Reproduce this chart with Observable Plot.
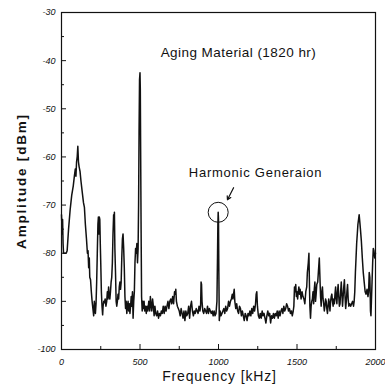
<!DOCTYPE html>
<html>
<head>
<meta charset="utf-8">
<script src="https://cdn.jsdelivr.net/npm/d3@7"></script>
<script src="https://cdn.jsdelivr.net/npm/@observablehq/plot@0.6"></script>
<style>
  html, body { margin: 0; padding: 0; background: #fff; }
  svg { display: block; }
</style>
</head>
<body>
<div id="chart"></div>
<script>
// Spectrum: frequency (kHz) and amplitude (dBm)
const freq = [0,4,7,10,13,20,30,36,45,55,65,75,82,88,92,96,100,104,108,112,118,124,131,140,146,152,159,165,169,173,177,180,185,190,195,200,205,209,212,216,220,224,228,232,235,238,241,244,247,250,254,258,262,265,269,273,278,283,288,292,296,300,304,308,312,316,320,324,328,332,335,337,340,344,348,352,356,360,364,368,372,376,380,384,388,392,396,400,404,408,412,416,420,424,428,432,436,440,444,448,452,456,460,464,468,472,476,480,484,488,491,494,497,500,502,504,507,510,514,518,522,526,530,535,540,545,550,556,562,566,570,575,580,585,590,595,600,606,612,618,624,630,636,642,648,654,660,666,672,678,684,690,696,702,708,714,720,724,728,732,738,744,750,756,762,768,774,780,786,792,798,804,810,816,822,828,834,840,846,852,858,864,870,876,882,886,889,892,895,900,906,912,918,924,930,936,942,948,954,960,966,972,978,984,990,994,996,998,1000,1002,1005,1010,1016,1022,1028,1034,1040,1046,1052,1058,1064,1070,1076,1082,1088,1092,1096,1100,1104,1110,1116,1122,1128,1134,1140,1146,1152,1158,1164,1170,1176,1182,1188,1194,1200,1206,1212,1218,1224,1230,1236,1240,1244,1248,1254,1260,1266,1272,1278,1284,1290,1296,1302,1308,1314,1320,1326,1332,1338,1344,1350,1356,1362,1368,1374,1380,1386,1392,1398,1404,1410,1416,1422,1428,1434,1440,1446,1452,1458,1464,1470,1476,1480,1484,1488,1492,1496,1500,1504,1508,1512,1516,1520,1526,1532,1538,1544,1550,1556,1562,1566,1572,1576,1579,1582,1586,1590,1594,1598,1602,1606,1610,1614,1618,1622,1626,1632,1636,1642,1646,1650,1654,1658,1662,1666,1670,1674,1678,1682,1686,1690,1694,1698,1702,1706,1710,1714,1718,1722,1726,1730,1734,1738,1742,1746,1750,1754,1758,1762,1766,1770,1774,1778,1782,1786,1790,1794,1798,1802,1806,1810,1814,1818,1822,1826,1830,1836,1842,1848,1854,1860,1864,1868,1872,1876,1880,1884,1888,1892,1896,1900,1904,1910,1916,1922,1928,1934,1940,1946,1952,1956,1960,1964,1966,1968,1971,1974,1978,1982,1986,1990,1995,2000];
const amp = [-72,-76,-73,-78,-80,-80,-80,-79.5,-75,-71,-68,-66,-64,-62.5,-64,-61,-60,-57.8,-61,-62,-63,-65,-67,-69.5,-70.5,-74,-77,-80,-79.5,-83,-81,-85,-85.5,-88,-90,-91.5,-93,-90,-91,-92.5,-90.5,-86,-80,-74,-72.5,-76,-72.5,-73,-78,-82,-88,-91,-92.8,-91,-90,-90.3,-89.5,-91,-90,-88,-89.5,-87,-89,-89.5,-88,-86,-85,-82,-76,-72,-73,-71.5,-79,-84,-90,-91,-90,-88.5,-89.5,-87,-86,-87.5,-86,-81,-77,-76,-79,-83,-89,-91.5,-90,-92.5,-91,-90,-92,-90.5,-92.5,-91,-89,-91,-88,-93.5,-90,-88,-82,-79,-80,-78,-82,-79,-70,-55,-44,-42.5,-46,-58,-75,-89,-92,-90,-91.5,-90,-92,-91,-92.5,-91,-92,-90,-92,-89,-90.5,-92,-89.5,-91,-93,-91,-92.5,-93,-92,-93.5,-92.5,-93,-92,-92.5,-91,-92.5,-91,-92,-91,-90,-91.5,-90,-89.5,-90.5,-89,-90.5,-88,-88.5,-87.5,-90,-91,-91.5,-92,-93,-91.5,-92.5,-93.5,-92,-94,-92,-93,-92.5,-91,-93.5,-91,-90,-92,-93,-92,-92.5,-91.5,-92,-92.5,-91,-92,-91,-86,-86.5,-90,-92,-92.5,-91.5,-92,-92.5,-91,-92.5,-91.5,-92,-92.5,-92,-93,-92,-93,-92.5,-90,-80,-74,-71.5,-73,-83,-94,-92,-93,-92.5,-92,-91.5,-92.5,-91,-92,-91.5,-90,-91,-90,-89.5,-88.5,-89.5,-88.5,-87.5,-90,-91.5,-90.5,-92,-92.5,-91,-91.5,-93,-92,-93,-94,-92.5,-93,-94,-92.5,-93,-92,-93,-91.5,-92.5,-91,-92,-90.5,-88.5,-88,-91,-93,-93.5,-92.5,-93.5,-92,-93,-92.5,-93.5,-94.5,-93,-92,-93,-92.5,-94.5,-93,-93.5,-92.5,-93.5,-92.5,-93,-92,-93.5,-92,-93,-92,-91.5,-92.5,-91,-92,-91.5,-90.5,-91,-92,-91.5,-92.5,-92,-93,-92,-91,-87,-88,-86.5,-89,-88,-89.5,-88,-87,-88.5,-87.5,-89.5,-88,-89,-89.5,-90.5,-88,-87,-84,-82,-80,-86,-91,-93.5,-91,-90,-89.5,-88,-90.5,-87.5,-86,-90,-88.5,-86.5,-86,-84,-81,-85,-89,-91,-88,-87,-89.5,-90.5,-92,-91,-89.5,-90,-91.5,-92.5,-91,-89.5,-90.5,-92,-90,-89,-88.5,-90,-91,-89.5,-90.5,-88.5,-87,-89.5,-90.5,-88,-86.5,-89,-91,-90.5,-88,-86,-88.5,-91,-89,-87,-85.5,-89,-91.5,-90,-88,-86.5,-89.5,-91,-90.5,-91,-90.5,-90,-91,-90,-88,-84,-81,-78,-76,-74,-73,-72,-73.5,-75,-77.5,-81,-84,-86,-88,-88.5,-87.5,-89,-88,-84,-85,-88,-92,-93,-90,-86,-82,-79,-79.5,-81,-80,-79];

// Axis ticks and labels
const xTicks = [0, 500, 1000, 1500, 2000];
const xMinor = [250, 750, 1250, 1750];
const yTicks = [-100, -90, -80, -70, -60, -50, -40, -30];
const yMinor = [-95, -85, -75, -65, -55, -45, -35];

const xTitle = "Frequency [kHz]";
const yTitle = "Amplitude [dBm]";
const titleText = "Aging Material (1820 hr)";
const titlePos = {x: 1127, y: -38.3};
const noteText = "Harmonic Generaion";
const notePos = {x: 1236, y: -63.3};
const circlePos = [{x: 998, y: -71.5}];
const arrowPos = [{x1: 1096, y1: -66.4, x2: 1057, y2: -68.9}];

const data = freq.map((f, i) => ({f, a: amp[i]}));
const font = "'Liberation Sans', Arial, sans-serif";

const chart = Plot.plot({
  width: 385,
  height: 392,
  marginLeft: 61,
  marginRight: 10,
  marginTop: 12,
  marginBottom: 43,
  style: {fontFamily: font, background: "#fff", color: "#111"},
  x: {domain: [0, 2000]},
  y: {domain: [-100, -30]},
  marks: [
    Plot.axisX(xTicks, {tickSize: -5, tickFormat: () => "", label: null}),
    Plot.axisX(xMinor, {tickSize: -3, tickFormat: () => "", label: null}),
    Plot.axisX(xTicks, {tickSize: 0, tickPadding: 9, fontSize: 9, fontStyle: "italic", label: null, tickFormat: d => String(d)}),
    Plot.axisY(yTicks, {tickSize: -5, tickFormat: () => "", label: null}),
    Plot.axisY(yMinor, {tickSize: -3, tickFormat: () => "", label: null}),
    Plot.axisY(yTicks, {tickSize: 0, tickPadding: 6, fontSize: 9, fontStyle: "italic", label: null, tickFormat: d => String(d)}),
    Plot.line(data, {x: "f", y: "a", stroke: "#111", strokeWidth: 1.5}),
    Plot.frame({stroke: "#111", strokeWidth: 1.2}),
    Plot.text([titleText], {x: titlePos.x, y: titlePos.y, fontSize: 13.5, fill: "#111"}),
    Plot.text([noteText], {x: notePos.x, y: notePos.y, fontSize: 13, fill: "#111"}),
    Plot.dot(circlePos, {x: "x", y: "y", r: 10, stroke: "#111", fill: "none", strokeWidth: 1}),
    Plot.arrow(arrowPos, {x1: "x1", y1: "y1", x2: "x2", y2: "y2", stroke: "#111", strokeWidth: 1.2, headLength: 5}),
    Plot.text([xTitle], {frameAnchor: "bottom", dy: 31, dx: 1, fontSize: 14, fill: "#111", textAnchor: "middle"}),
    Plot.text([yTitle], {frameAnchor: "left", dx: -40, rotate: -90, textAnchor: "middle", fontSize: 13.5, fill: "#111", fontWeight: "bold"})
  ]
});

// letter spacing of the titles, as in the reference
const spacing = new Map([[titleText, "0.45px"], [noteText, "0.75px"], [xTitle, "0.85px"], [yTitle, "1.8px"]]);
d3.select(chart).selectAll("text").each(function() {
  const s = spacing.get(this.textContent);
  if (s) this.style.letterSpacing = s;
});
document.getElementById("chart").appendChild(chart);
</script>
</body>
</html>
